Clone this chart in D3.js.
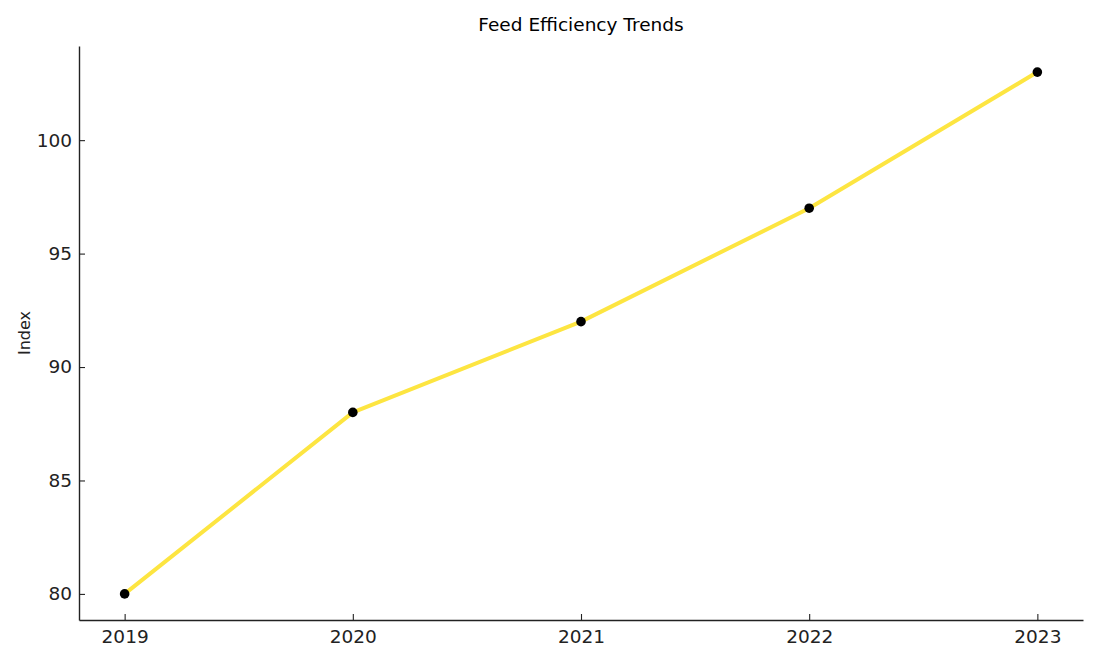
<!DOCTYPE html>
<html><head><meta charset="utf-8">
<script src="https://cdn.jsdelivr.net/npm/d3@7"></script>
<style>body{margin:0;background:#fff}svg{display:block;font-family:"DejaVu Sans",sans-serif}</style>
</head><body><svg id="c" width="1100" height="660"></svg>
<script>
const years = [2019, 2020, 2021, 2022, 2023];
const values = [80, 88, 92, 97, 103];
const yTicks = [80, 85, 90, 95, 100];
const title = "Feed Efficiency Trends";
const yLabel = "Index";

const svg = d3.select("#c");
const L = 79, R = 1083, T = 46, B = 620;
const x = d3.scaleLinear().domain([2018.8, 2023.2]).range([L, R]);
const y = d3.scaleLinear().domain([78.85, 104.15]).range([B, T]);

const xa = svg.append("g").attr("transform", `translate(0,${B})`)
  .call(d3.axisBottom(x).tickValues(years).tickFormat(d3.format("d")).tickSizeInner(-6).tickSizeOuter(0).tickPadding(8));
const ya = svg.append("g").attr("transform", `translate(${L},0)`)
  .call(d3.axisLeft(y).tickValues(yTicks).tickSizeInner(-6).tickSizeOuter(0).tickPadding(7));
[xa, ya].forEach(a => {
  a.selectAll("path").attr("stroke", "#222").attr("stroke-width", 1.4);
  a.selectAll("line").attr("stroke", "#222").attr("stroke-width", 1.1);
  a.selectAll("text").attr("fill", "#222").style("font-size", "18.5px").style("font-family", "DejaVu Sans");
});
xa.selectAll("text").attr("dy", "0.8em");

svg.append("text").attr("x", (L + R) / 2).attr("y", 31).attr("text-anchor", "middle")
  .style("font-size", "18.5px").attr("fill", "#000").text(title);
svg.append("text").attr("transform", `translate(30,${(T + B) / 2}) rotate(-90)`)
  .attr("text-anchor", "middle").style("font-size", "16px").attr("fill", "#222").text(yLabel);

const data = years.map((yr, i) => ({ yr, v: values[i] }));
svg.append("path").datum(data)
  .attr("fill", "none").attr("stroke", "#fde541").attr("stroke-width", 4).attr("stroke-linejoin", "round").attr("stroke-linecap", "round")
  .attr("d", d3.line().x(d => x(d.yr)).y(d => y(d.v)));
svg.selectAll("circle.pt").data(data).enter().append("circle")
  .attr("cx", d => x(d.yr)).attr("cy", d => y(d.v)).attr("r", 4.8).attr("fill", "#000");
</script></body></html>
